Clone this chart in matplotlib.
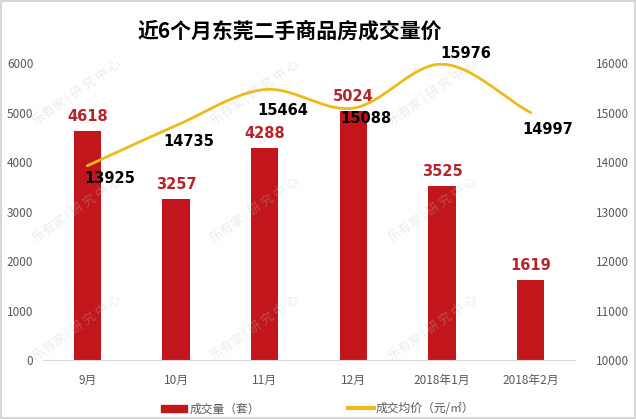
import matplotlib
matplotlib.use("Agg")
import matplotlib.pyplot as plt
import numpy as np
from matplotlib.patches import Rectangle

plt.rcParams['font.family'] = ['Noto Sans CJK SC', 'DejaVu Sans']

months = ['9月', '10月', '11月', '12月', '2018年1月', '2018年2月']
volume = [4618, 3257, 4288, 5024, 3525, 1619]
price = [13925, 14735, 15464, 15088, 15976, 14997]
# label offsets (px) for the price labels, as Excel placed them
price_off = [(22, -13), (13, -16), (18, -21), (13, -10), (24, 11), (17, -17)]

title = '近6个月东莞二手商品房成交量价'
bar_color = '#C3161C'
line_color = '#F0B91A'
tick_color = '#595959'


def smooth(xs, ys, n=40):
    """Catmull-Rom style smoothing like Excel's smoothed line"""
    xs = np.asarray(xs, float)
    ys = np.asarray(ys, float)
    px = np.concatenate(([2 * xs[0] - xs[1]], xs, [2 * xs[-1] - xs[-2]]))
    py = np.concatenate(([2 * ys[0] - ys[1]], ys, [2 * ys[-1] - ys[-2]]))
    outx, outy = [], []
    for i in range(1, len(px) - 2):
        p0, p1, p2, p3 = [np.array([px[j], py[j]]) for j in range(i - 1, i + 3)]
        c1 = p1 + (p2 - p0) / 6
        c2 = p2 - (p3 - p1) / 6
        t = np.linspace(0, 1, n)[:, None]
        pts = (1 - t) ** 3 * p1 + 3 * (1 - t) ** 2 * t * c1 + 3 * (1 - t) * t ** 2 * c2 + t ** 3 * p2
        outx.extend(pts[:, 0])
        outy.extend(pts[:, 1])
    return np.array(outx), np.array(outy)


fig = plt.figure(figsize=(6.36, 4.19), dpi=100)
fig.patches.append(Rectangle((0.002, 0.002), 0.996, 0.996, transform=fig.transFigure,
                             fill=False, edgecolor='#D0D0D0', linewidth=1.2))

ax = fig.add_axes([0.0676, 0.1408, 0.8365, 0.7088])
x = np.arange(len(months))
ax.bar(x, volume, width=0.31, color=bar_color, zorder=2)
ax.set_xlim(-0.5, len(months) - 0.5)
ax.set_ylim(0, 6000)
ax.set_yticks(np.arange(0, 6001, 1000))
ax.set_xticks(x)
ax.set_xticklabels(months)
for s in ['top', 'left', 'right']:
    ax.spines[s].set_visible(False)
ax.spines['bottom'].set_color('#D9D9D9')
ax.tick_params(axis='both', length=0, colors=tick_color, labelsize=8.5)
ax.tick_params(axis='x', pad=10)
ax.tick_params(axis='y', pad=7)
for xi, v in zip(x, volume):
    ax.annotate(str(v), (xi, v), xytext=(0, 5), textcoords='offset points',
                ha='center', va='bottom', color='#B5262B', fontsize=10.5,
                fontweight='bold', family='DejaVu Sans')

ax2 = ax.twinx()
sx, sy = smooth(x, price)
ax2.plot(sx, sy, color=line_color, linewidth=2.0, solid_capstyle='round', zorder=3)
ax2.set_ylim(10000, 16000)
ax2.set_yticks(np.arange(10000, 16001, 1000))
for s in ['top', 'left', 'right', 'bottom']:
    ax2.spines[s].set_visible(False)
ax2.tick_params(axis='y', length=0, colors=tick_color, labelsize=8.5, pad=15)
for xi, v, (dx, dy) in zip(x, price, price_off):
    ax2.annotate(str(v), (xi, v), xytext=(dx * 0.72, dy * 0.72), textcoords='offset points',
                 ha='center', va='center', color='black', fontsize=10.5,
                 fontweight='bold', family='DejaVu Sans')

# faint watermark
for wx in [0.12, 0.40, 0.68]:
    for wy in [0.78, 0.50, 0.22]:
        fig.text(wx, wy, '乐有家 | 研 究 中 心', rotation=35, color='#BFBFBF', alpha=0.3,
                 fontsize=9, ha='center', va='center', zorder=5)

fig.text(0.455, 0.925, title, ha='center', va='center', fontsize=15, fontweight='bold')

handles = [Rectangle((0, 0), 1, 1, color=bar_color),
           plt.Line2D([0], [0], color=line_color, linewidth=3)]
fig.legend(handles, ['成交量（套）', '成交均价（元/㎡）'], loc='center', ncol=2,
           bbox_to_anchor=(0.5, 0.024), frameon=False, fontsize=8.5, handlelength=2.2,
           handleheight=0.6, columnspacing=7.4, handletextpad=0.2, labelcolor=tick_color)

fig.savefig('out.png', dpi=100)
